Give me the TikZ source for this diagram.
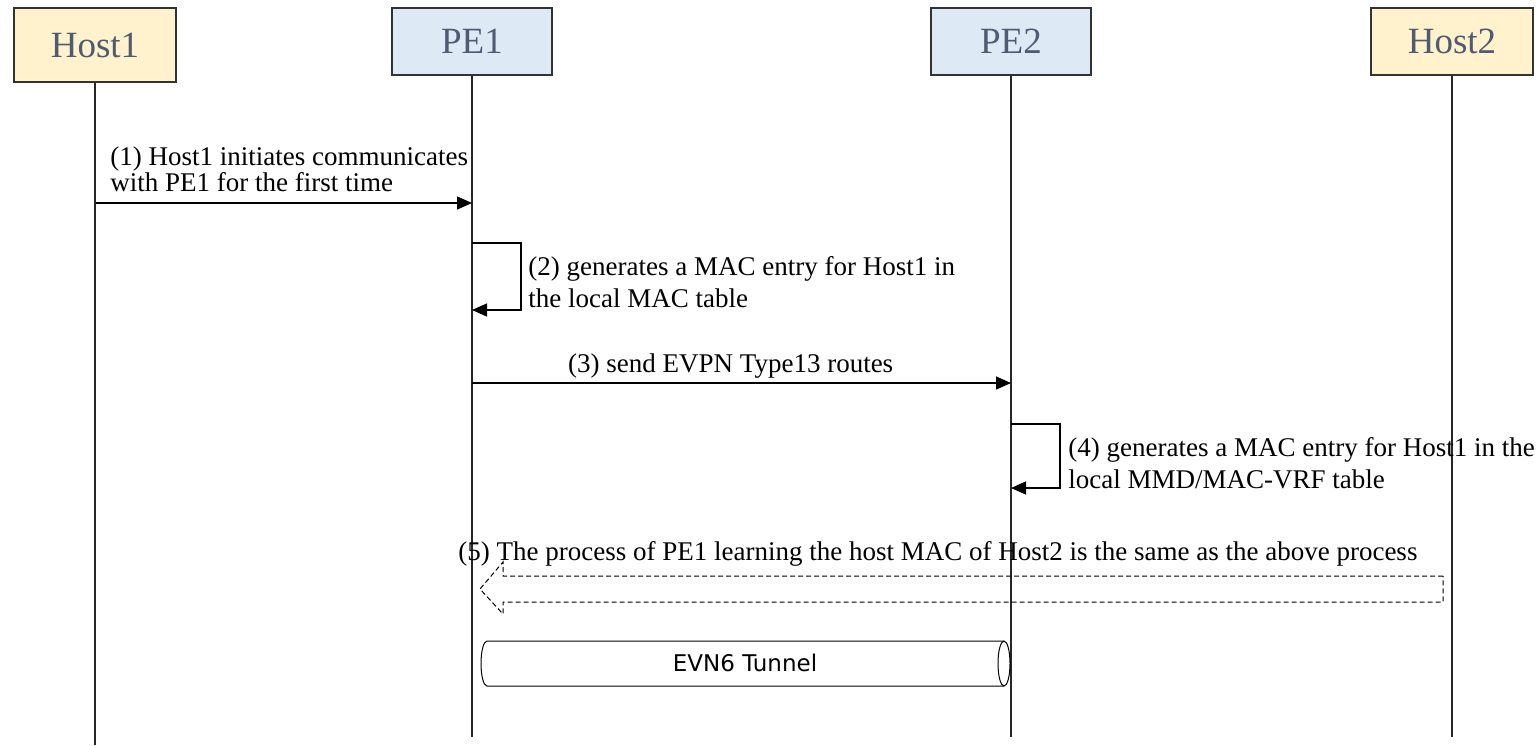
\documentclass[tikz,border=0pt]{standalone}
\usepackage{fontspec}
\setmainfont{Liberation Serif}
\newfontfamily\tunnelfont{DejaVu Sans}
\usetikzlibrary{arrows.meta,positioning,calc}

\definecolor{hostfill}{HTML}{FFF2CC}
\definecolor{pefill}{HTML}{DEE9F6}
\definecolor{boxline}{HTML}{333333}
\definecolor{titlecol}{HTML}{4E5B72}

\tikzset{
  actor/.style={draw=boxline, line width=0.9pt, inner sep=0pt, text=titlecol,
    font=\fontsize{18.5}{21}\selectfont},
  hostbox/.style={actor, fill=hostfill, minimum width=81pt, minimum height=37pt},
  pebox/.style={actor, fill=pefill, minimum width=80pt, minimum height=33.5pt},
  lifeline/.style={draw=black!85, line width=0.6pt},
  msg/.style={-{Triangle[length=7.5pt,width=6.5pt]}, line width=0.6pt},
  note/.style={font=\fontsize{13.5}{16}\selectfont, align=left, inner sep=0pt},
}

\begin{document}
\begin{tikzpicture}[x=0.5pt, y=-0.5pt]
\useasboundingbox (0,0) rectangle (1536,745);

\node[hostbox] (host1) at (95,45)     {Host1};
\node[pebox]   (pe1)   at (472,41.5)  {PE1};
\node[pebox]   (pe2)   at (1011,41.5) {PE2};
\node[hostbox, minimum height=33.5pt] (host2) at (1452,41.5) {Host2};

\foreach \n/\e in {host1/745, pe1/737, pe2/737, host2/737} {
  \draw[lifeline] (\n.south) -- (\n.south |- 0,\e);
}

% (1) host to PE1
\coordinate (m1a) at (96,203);
\coordinate (m1b) at (472,203);
\draw[msg] (m1a) -- (m1b);
\node[note, font=\fontsize{13.5}{13}\selectfont, above right=5.5pt and 7pt of m1a]
  (n1) {(1) Host1 initiates communicates\\with PE1 for the first time};

% (2) PE1 local MAC entry
\coordinate (s2a) at (472,243);
\coordinate (s2b) at (472,310);
\draw[msg] (s2a) -- ++(49,0) |- (s2b);
\node[note, below right=6.5pt and 28pt of s2a]
  (n2) {(2) generates a MAC entry for Host1 in\\the local MAC table};

% (3) PE1 to PE2
\coordinate (m3a) at (472,383);
\coordinate (m3b) at (1011,383);
\draw[msg] (m3a) -- node[note, above=2pt, pos=0.48] (n3) {(3) send EVPN Type13 routes} (m3b);

% (4) PE2 local MAC entry
\coordinate (s4a) at (1011,424);
\coordinate (s4b) at (1011,488);
\draw[msg] (s4a) -- ++(49,0) |- (s4b);
\node[note, below right=6.5pt and 28.5pt of s4a]
  (n4) {(4) generates a MAC entry for Host1 in the\\local MMD/MAC-VRF table};

% (5) same process the other way
\coordinate (r5a) at (1443,589);
\coordinate (r5b) at (480,589);
\draw[dash pattern=on 2.5pt off 1.5pt, line width=0.5pt]
  ($(r5a)+(0,-13)$) -- (503,576) -- (503,562) -- (r5b) -- (503,614)
  -- (503,602) -- ($(r5a)+(0,13)$) -- cycle;
\node[note, anchor=base west] (n5) at (458,560)
  {(5) The process of PE1 learning the host MAC of Host2 is the same as the above process};

% tunnel between PE1 and PE2
\node[font=\tunnelfont\fontsize{11.5}{13}\selectfont] (tunnel) at (745,663) {EVN6 Tunnel};
\draw[line width=0.5pt] (1004,641) -- (487,641) arc(270:90:6 and 22.5)
  -- (1004,686) arc(90:-90:6 and 22.5);
\draw[line width=0.5pt] (1004,641) arc(270:90:6 and 22.5);
\end{tikzpicture}
\end{document}
